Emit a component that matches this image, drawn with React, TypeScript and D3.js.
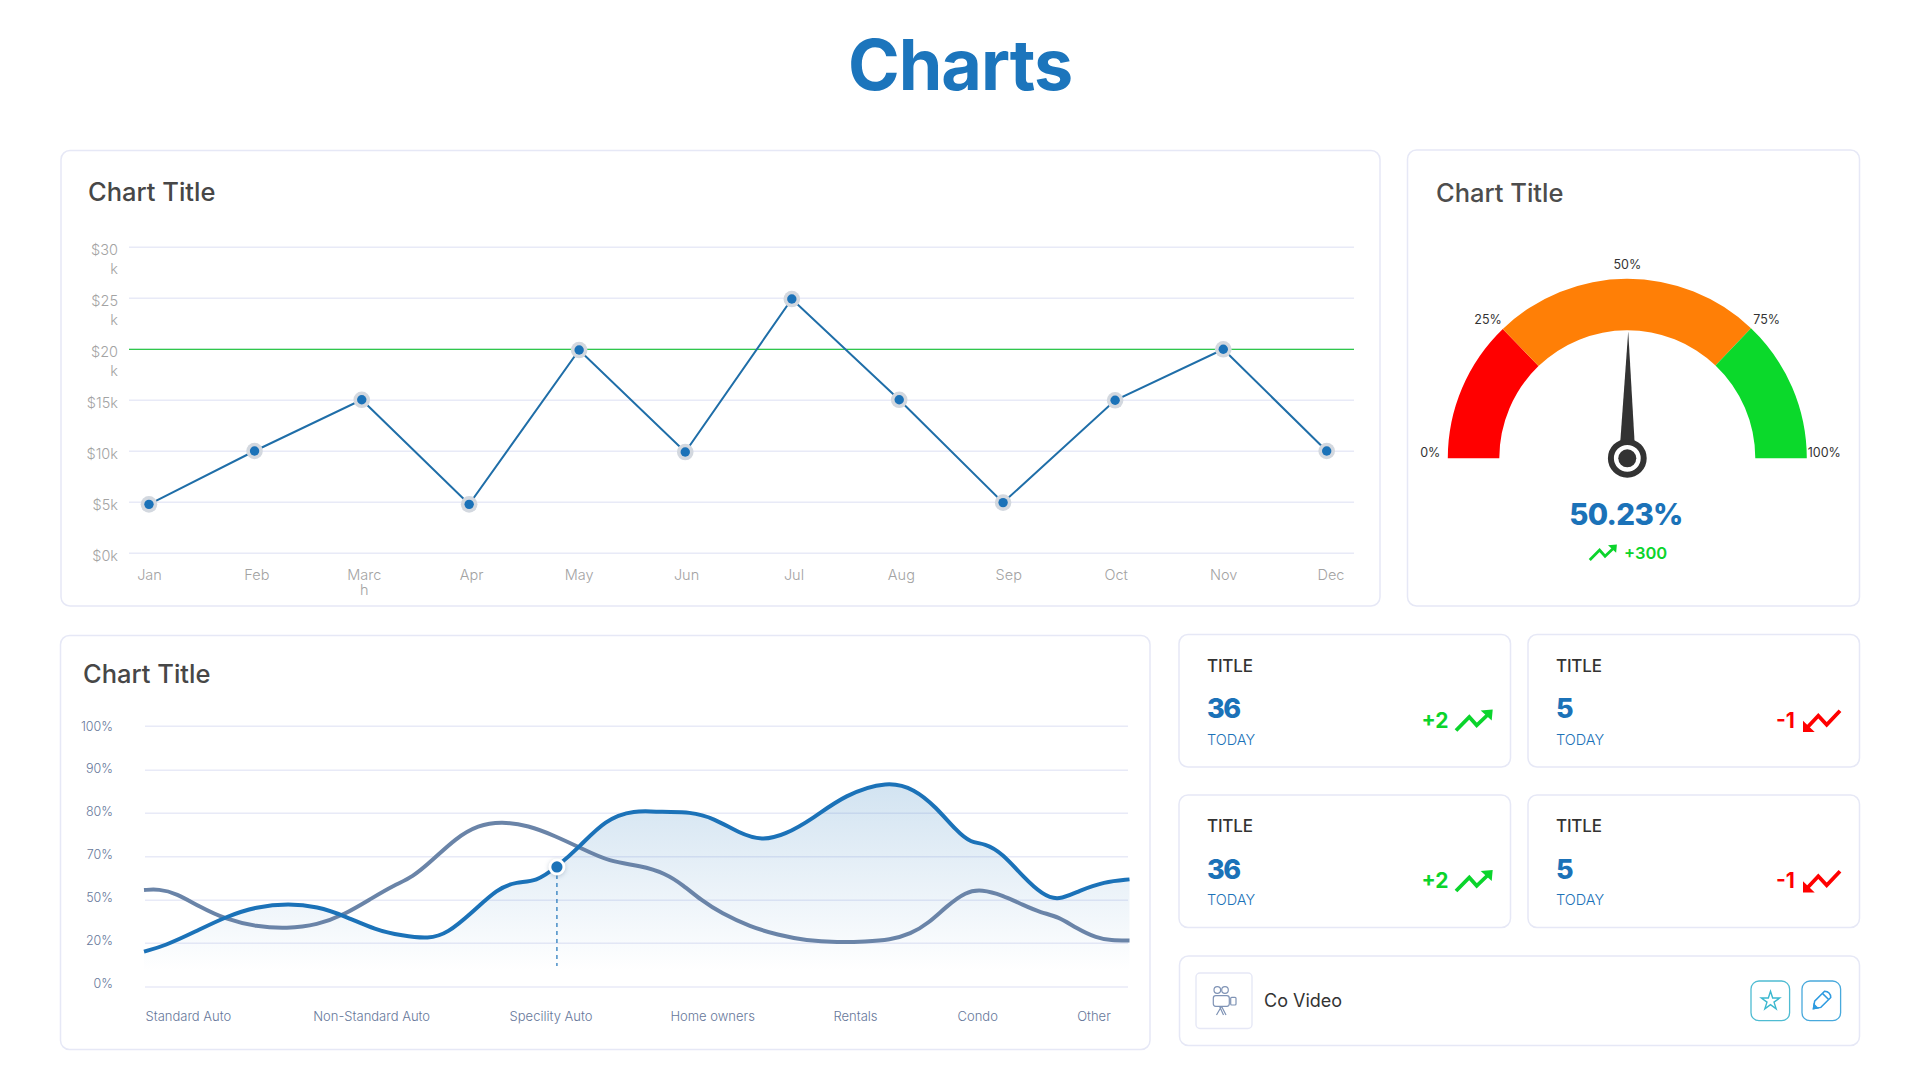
import React from "react";
import * as d3 from "d3";

const FONT = "Inter, 'Noto Sans', sans-serif";
const BLUE = "#1b72b8";
const GREEN = "#0bd42c";
const RED = "#ff0000";
const GRID = "#e8eaf7";
const BORDER = "#e6e8f6";

// line chart
const months = ["Jan", "Feb", "Marc\nh", "Apr", "May", "Jun", "Jul", "Aug", "Sep", "Oct", "Nov", "Dec"];
const monthPos = [-0.005, 0.978, 1.976, 2.976, 4.0, 4.988, 5.98, 6.98, 7.947, 8.99, 9.997, 10.96];
const revenue = [4.8, 10.03, 15.05, 4.8, 19.93, 9.93, 24.93, 15.05, 4.97, 15, 20, 10.03];
const revenueTicks = [0, 5, 10, 15, 20, 25, 30];
const revenueLabels = ["$0k", "$5k", "$10k", "$15k", "$20\nk", "$25\nk", "$30\nk"];
const revenueTarget = 20;

// gauge
const gaugeBands = [25.6, 48.6, 25.8];
const gaugeColors = ["#ff0000", "#ff7f06", "#0bd92b"];
const gaugeTicks = [0, 25, 50, 75, 100];
const gaugeValue = 50.23;

// area chart
const shareTicks = [0, 20, 50, 70, 80, 90, 100];
const shareCategories = ["Standard Auto", "Non-Standard Auto", "Specility Auto", "Home owners", "Rentals", "Condo", "Other"];
const shareCategoryPos = [4.5, 23.1, 41.3, 57.7, 72.2, 84.6, 96.4];
const blueT = [0, 2.1, 5.2, 8.3, 11.4, 14.7, 17.6, 20.3, 23.5, 26.2, 28.9, 30.8, 33.2, 35.9, 37.8, 39.8, 41.9, 44.2, 46.8, 49.7, 52.6, 55.4, 57.9, 60.4, 62.7, 65, 67.9, 71.1, 75.5, 78.2, 80.3, 82.5, 83.9, 85.3, 87.1, 89.2, 91.2, 92.8, 94.9, 97.4, 100];
const blueV = [16.2, 18.8, 28.1, 38.6, 45.6, 47.9, 45.6, 39.3, 29.3, 25.3, 23, 27, 40.9, 55.5, 58.5, 58.5, 65.3, 72.3, 78.5, 80.8, 80.2, 80.4, 78.8, 75.4, 73.7, 75, 78.8, 84.3, 87.6, 85.6, 81.6, 75.8, 73.2, 73.1, 70.8, 60.8, 52.4, 49.8, 54.4, 58.5, 59.6];
const greyT = [0, 1.5, 3.3, 5.6, 8.3, 11.4, 14.5, 17.6, 20.3, 23.1, 25.4, 27.2, 29.3, 31.6, 33.9, 36.3, 39, 41.7, 44.4, 47.2, 50.4, 52.9, 54.7, 56.5, 58.6, 61.5, 64.3, 67.2, 70.4, 73.2, 75.7, 77.8, 79.6, 81.4, 83.4, 85, 87.1, 89.2, 91, 92.8, 94.6, 96.7, 98.1, 100];
const greyV = [54.7, 55.2, 53.2, 45.6, 36.7, 31.6, 30.2, 32.8, 39.8, 50.9, 57, 60.4, 68.5, 74.2, 77.3, 78.1, 77.2, 74.8, 71.9, 67.7, 65.9, 62.4, 57, 50.2, 40.9, 31.6, 25.8, 21.9, 20.7, 21.2, 22.3, 26.5, 34, 45.6, 54, 55, 52.4, 46.7, 41.4, 38.6, 30.5, 23.5, 22.1, 21.9];
const markerIndex = 16;

// stat tiles
const tileValues = [36, 5, 36, 5];
const tileDeltas = [2, -1, 2, -1];

const Card = ({ x, y, x2, y2 }: { x: number; y: number; x2: number; y2: number }) => (
  <rect x={x} y={y} width={x2 - x} height={y2 - y} rx={9} fill="#fff" stroke={BORDER} strokeWidth={1.5} />
);

const Lines = ({ label, x, y, step, ...rest }: any) => (
  <text x={x} y={y} {...rest}>
    {label.split("\n").map((s: string, i: number) => (
      <tspan key={i} x={x} dy={i ? step : 0}>{s}</tspan>
    ))}
  </text>
);

const LineChart = () => {
  const x = d3.scaleLinear().domain([0, 11]).range([149.5, 1331]);
  const y = d3.scaleLinear().domain([0, 30]).range([553.3, 247.3]);
  const line = d3.line<number>().x((_, i) => x(monthPos[i])).y((d) => y(d));
  return (
    <g>
      <Card x={61} y={150.5} x2={1380} y2={606} />
      <text x={88} y={201} fontSize={25.5} fontWeight={500} fill="#474747">Chart Title</text>
      {revenueTicks.map((t, i) => (
        <g key={t}>
          <line x1={129} x2={1354} y1={y(t)} y2={y(t)} stroke={GRID} strokeWidth={1.4} />
          <Lines label={revenueLabels[i]} x={118} y={y(t) + 8} step={18.5} textAnchor="end" fontSize={14.5} fontWeight={300} fill="#a3a3a3" />
        </g>
      ))}
      <line x1={129} x2={1354} y1={y(revenueTarget)} y2={y(revenueTarget)} stroke="#2fc84a" strokeWidth={1.3} />
      <path d={line(revenue)!} fill="none" stroke="#1f6ea8" strokeWidth={2} />
      {revenue.map((v, i) => (
        <g key={i}>
          <circle cx={x(monthPos[i])} cy={y(v)} r={8.3} fill="#d3d8df" />
          <circle cx={x(monthPos[i])} cy={y(v)} r={4.7} fill={BLUE} />
        </g>
      ))}
      {months.map((m, i) => (
        <Lines key={m} label={m} x={x(i)} y={580} step={15} textAnchor="middle" fontSize={14.5} fontWeight={300} fill="#a3a3a3" />
      ))}
    </g>
  );
};

const Trend = ({ x, y, up, width = 1 }: { x: number; y: number; up: boolean; width?: number }) => (
  <g transform={`translate(${x},${y}) scale(${width})`} fill="none" stroke={up ? GREEN : RED} strokeWidth={3.8}>
    {up ? (
      <>
        <polyline points="1,21 14.3,7.5 21.7,15.8 33,5" />
        <polygon points="25.7,1 37.7,0 36.7,11" fill={GREEN} stroke="none" />
      </>
    ) : (
      <>
        <polyline points="37,1 23.7,15 15.3,6 4,18" />
        <polygon points="0,11 0,22.3 11.7,22.3" fill={RED} stroke="none" />
      </>
    )}
  </g>
);

const Gauge = () => {
  const cx = 1627.3;
  const cy = 458.3;
  const pie = d3.pie<number>().sort(null).startAngle(-Math.PI / 2).endAngle(Math.PI / 2);
  const arc = d3.arc<d3.PieArcDatum<number>>().innerRadius(128).outerRadius(179.5);
  const angle = d3.scaleLinear().domain([0, 100]).range([-90, 90]);
  return (
    <g>
      <Card x={1407.5} y={150} x2={1859.5} y2={606} />
      <text x={1436} y={202} fontSize={25.5} fontWeight={500} fill="#4d4d4d">Chart Title</text>
      <g transform={`translate(${cx},${cy})`}>
        {pie(gaugeBands).map((d, i) => (
          <path key={i} d={arc(d)!} fill={gaugeColors[i]} />
        ))}
        {gaugeTicks.map((t) => {
          const a = (angle(t) * Math.PI) / 180;
          return (
            <text key={t} x={197 * Math.sin(a)} y={-188 * Math.cos(a) - 1} textAnchor="middle" fontSize={12.5} fill="#333">{t}%</text>
          );
        })}
        <g transform={`rotate(${angle(gaugeValue)})`}>
          <path d="M0,-127 L7.3,-14 L-7.3,-14 Z" fill="#333" />
        </g>
        <circle r={16.4} fill="#fff" stroke="#333" strokeWidth={6} />
        <circle r={9} fill="#333" />
      </g>
      <text x={1626} y={525} textAnchor="middle" fontSize={29.5} fontWeight={800} letterSpacing={-0.7} fill={BLUE}>{gaugeValue}%</text>
      <Trend x={1589} y={544.5} up width={0.74} />
      <text x={1624} y={559} fontSize={16.5} fontWeight={600} fill={GREEN}>+300</text>
    </g>
  );
};

const AreaChart = () => {
  const x = d3.scaleLinear().domain([0, 100]).range([144, 1129.5]);
  const y = d3.scaleLinear().domain(shareTicks).range([987, 943.3, 900.3, 856.7, 813.3, 770.3, 726.3]);
  const labelY = d3.scalePoint<number>().domain(shareTicks).range([983, 726]);
  const blueLine = d3.line<number>().x((_, i) => x(blueT[i])).y((d) => y(d)).curve(d3.curveBasis);
  const greyLine = d3.line<number>().x((_, i) => x(greyT[i])).y((d) => y(d)).curve(d3.curveBasis);
  const area = d3.area<number>().x((_, i) => x(blueT[i])).y0(y(0)).y1((d) => y(d)).curve(d3.curveBasis);
  const mx = x(blueT[markerIndex]);
  const my = y(blueV[markerIndex]);
  return (
    <g>
      <Card x={60.5} y={635.5} x2={1150} y2={1049.5} />
      <text x={83} y={683} fontSize={25.5} fontWeight={500} fill="#474747">Chart Title</text>
      <defs>
        <linearGradient id="share-fill" gradientUnits="userSpaceOnUse" x1={0} x2={0} y1={782} y2={972}>
          <stop offset="0%" stopColor={BLUE} stopOpacity={0.2} />
          <stop offset="100%" stopColor={BLUE} stopOpacity={0} />
        </linearGradient>
      </defs>
      {shareTicks.map((t) => (
        <g key={t}>
          <line x1={145} x2={1128} y1={y(t)} y2={y(t)} stroke={GRID} strokeWidth={1.4} />
          <text x={113} y={labelY(t)! + 4.5} textAnchor="end" fontSize={12.5} fontWeight={300} fill="#66779a">{t}%</text>
        </g>
      ))}
      <path d={area(blueV)!} fill="url(#share-fill)" />
      <path d={greyLine(greyV)!} fill="none" stroke="#6a84a8" strokeWidth={4} />
      <path d={blueLine(blueV)!} fill="none" stroke={BLUE} strokeWidth={4} />
      <line x1={mx} x2={mx} y1={my} y2={966} stroke={BLUE} strokeWidth={1.2} strokeDasharray="4 4" />
      <circle cx={mx} cy={my} r={8.5} fill="#fff" style={{ filter: "drop-shadow(0 1px 2px rgba(40,70,110,.25))" }} />
      <circle cx={mx} cy={my} r={5.6} fill={BLUE} />
      {shareCategories.map((c, i) => (
        <text key={c} x={x(shareCategoryPos[i])} y={1021} textAnchor="middle" fontSize={13} fontWeight={300} fill="#66779a">{c}</text>
      ))}
    </g>
  );
};

const Tile = ({ i }: { i: number }) => {
  const col = i % 2;
  const row = Math.floor(i / 2);
  const x = col ? 1528 : 1179;
  const dy = row * 160.5;
  const up = tileDeltas[i] > 0;
  return (
    <g transform={`translate(0,${dy})`}>
      <Card x={x} y={634.5} x2={col ? 1859.5 : 1510.5} y2={767} />
      <text x={x + 28} y={671.5} fontSize={17} fontWeight={500} letterSpacing={-0.2} fill="#333">TITLE</text>
      <text x={x + 28} y={718} fontSize={27} fontWeight={800} letterSpacing={-1.5} fill={BLUE}>{tileValues[i]}</text>
      <text x={x + 28} y={744.5} fontSize={14.5} fontWeight={300} fill={BLUE}>TODAY</text>
      <text x={col ? 1776 : 1421.5} y={727.5} fontSize={21} fontWeight={700} fill={up ? GREEN : RED}>
        {up ? `+${tileDeltas[i]}` : tileDeltas[i]}
      </text>
      <Trend x={col ? 1803 : 1455} y={up ? 709.5 : 709.7} up={up} />
    </g>
  );
};

const VideoRow = () => {
  const star = d3.symbol(d3.symbolStar, 105)()!;
  return (
    <g>
      <Card x={1179.5} y={956} x2={1859.5} y2={1045.5} />
      <rect x={1196} y={973} width={56} height={55.5} rx={4} fill="#fff" stroke={BORDER} strokeWidth={1.4} />
      <g fill="none" stroke="#7f93b5" strokeWidth={1.2}>
        <circle cx={1217.3} cy={990} r={3.3} />
        <circle cx={1225} cy={990} r={3.3} />
        <rect x={1213.3} y={995.7} width={16} height={10.6} rx={2.5} />
        <rect x={1230.7} y={997.3} width={5.3} height={7.7} rx={1} />
        <path d="M1221.5,1006.3 L1216.5,1015 M1221.5,1006.3 L1226,1015 M1219.5,1006.3 L1223.5,1015" />
      </g>
      <text x={1264} y={1007} fontSize={18} fill="#333">Co Video</text>
      <rect x={1751} y={981} width={38.6} height={39.7} rx={8} fill="#fff" stroke="#4fbcd2" strokeWidth={1.3} />
      <path d={star} transform="translate(1770.5,1001)" fill="none" stroke="#3bb8cf" strokeWidth={1.4} />
      <rect x={1802} y={981} width={38.6} height={39.7} rx={8} fill="#fff" stroke="#48a9dc" strokeWidth={1.3} />
      <g transform="translate(1813.5,1008.5) rotate(45)" fill="none" stroke="#2e9be0" strokeWidth={1.5}>
        <path d="M0,0 L-4.4,-6 L-4.4,-20 Q0,-24 4.4,-20 L4.4,-6 Z" />
        <path d="M-4.4,-17 L4.4,-17" />
        <path d="M0,0 L-2.4,-3.2 L2.4,-3.2 Z" fill="#2e9be0" />
      </g>
    </g>
  );
};

export default function App() {
  return (
    <svg width={1920} height={1080} style={{ position: "absolute", left: 0, top: 0, background: "#fff" }} fontFamily={FONT}>
      <text x={960} y={90} textAnchor="middle" fontSize={70} fontWeight={700} letterSpacing={-1} fill="#1c75bc">Charts</text>
      <LineChart />
      <Gauge />
      <AreaChart />
      {tileValues.map((_, i) => <Tile key={i} i={i} />)}
      <VideoRow />
    </svg>
  );
}
